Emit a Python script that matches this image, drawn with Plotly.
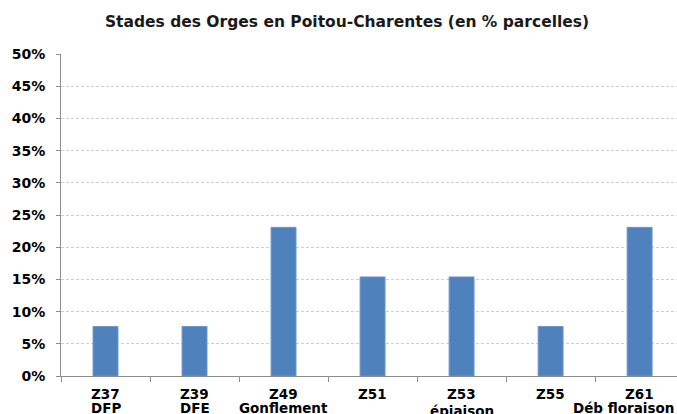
import plotly.graph_objects as go

categories = ["Z37", "Z39", "Z49", "Z51", "Z53", "Z55", "Z61"]
sub_labels = ["DFP", "DFE", "Gonflement", "", "épiaison", "", "Déb floraison"]
values = [7.69, 7.69, 23.08, 15.38, 15.38, 7.69, 23.08]
y_ticks = [0, 5, 10, 15, 20, 25, 30, 35, 40, 45, 50]
y_tick_labels = [f"{v}%" for v in y_ticks]
title = "Stades des Orges en Poitou-Charentes (en % parcelles)"

font_family = "DejaVu Sans, Verdana, sans-serif"
n = len(categories)
label_font = dict(family=font_family, size=13.5, color="#000000")

fig = go.Figure()
fig.add_trace(go.Bar(
    x=list(range(n)),
    y=values,
    width=0.28,
    marker=dict(color="#4F81BD", line=dict(color="#6B97CF", width=1)),
    hoverinfo="y",
))

fig.update_layout(
    width=677, height=414,
    margin=dict(l=61, r=0, t=54, b=38, pad=0, autoexpand=False),
    paper_bgcolor="white", plot_bgcolor="white",
    showlegend=False,
    title=dict(text="<b>" + title + "</b>", x=347 / 677, xanchor="center",
               y=1 - 22 / 414, yanchor="middle",
               font=dict(family=font_family, size=15.5, color="#1a1a1a")),
    font=dict(family=font_family, color="#000000"),
)

fig.update_xaxes(
    type="linear",
    range=[-0.5, 6.42],
    tickmode="array",
    tickvals=[i - 0.5 for i in range(n + 1)],
    ticktext=[""] * (n + 1),
    showline=True, linecolor="#8c8c8c", linewidth=1,
    ticks="outside", ticklen=5, tickcolor="#8c8c8c",
    showgrid=False, zeroline=False, automargin=False,
)

last = n - 1
for i, (c, s) in enumerate(zip(categories, sub_labels)):
    fig.add_annotation(
        x=i, y=0, xref="x", yref="paper",
        text="<b>" + c + "</b>",
        showarrow=False, yanchor="middle", yshift=-18, height=14,
        font=label_font,
    )
    if not s:
        continue
    shift = -35 if s == "épiaison" else -32
    if i == last:
        fig.add_annotation(
            x=1, y=0, xref="paper", yref="paper",
            text="<b>" + s + "</b>",
            showarrow=False, xanchor="right", xshift=-1,
            yanchor="middle", yshift=shift, height=14,
            font=label_font,
        )
    else:
        fig.add_annotation(
            x=i, y=0, xref="x", yref="paper",
            text="<b>" + s + "</b>",
            showarrow=False, yanchor="middle", yshift=shift, height=14,
            font=label_font,
        )

fig.update_yaxes(
    range=[0, 50],
    tickmode="array", tickvals=y_ticks,
    ticktext=["<b>" + t + "</b>" for t in y_tick_labels],
    showline=True, linecolor="#8c8c8c", linewidth=1,
    ticks="outside", ticklen=4, tickcolor="#8c8c8c",
    showgrid=True, gridcolor="#cfcfcf", griddash="3px,2px", gridwidth=1,
    zeroline=False, automargin=False,
    ticklabelstandoff=8,
    tickfont=dict(family=font_family, size=14, color="#000000"),
)

fig.write_html(
    "out.html",
    config={"displayModeBar": False},
    post_script="document.body.style.margin='0';document.body.style.overflow='hidden';",
)
